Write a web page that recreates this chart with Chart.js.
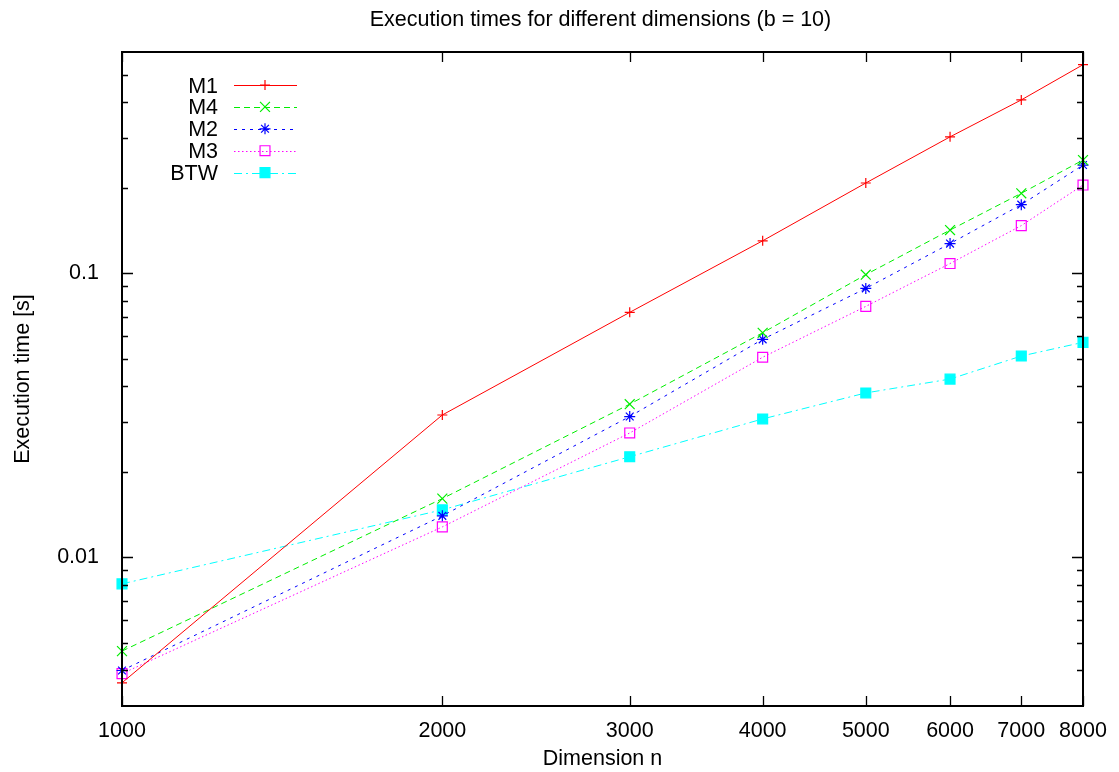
<!DOCTYPE html>
<html>
<head>
<meta charset="utf-8">
<script src="https://cdn.jsdelivr.net/npm/chart.js@4.4.1/dist/chart.umd.min.js"></script>
<style>
  html, body { margin: 0; padding: 0; background: #fff; }
  #wrap { width: 1119px; height: 772px; }
</style>
</head>
<body>
<div id="wrap"><canvas id="exec-chart"></canvas></div>
<script>
// execution times (seconds) per matrix dimension, block size b = 10
const DIMS = [1000, 2000, 3000, 4000, 5000, 6000, 7000, 8000];
const M1  = [0.00362, 0.0317, 0.0728, 0.1300, 0.2076, 0.3017, 0.4070, 0.5413];
const M4  = [0.00468, 0.0161, 0.0346, 0.0617, 0.0988, 0.1418, 0.1910, 0.2500];
const M2  = [0.00400, 0.0140, 0.0313, 0.0585, 0.0884, 0.1271, 0.1742, 0.2401];
const M3  = [0.00390, 0.0128, 0.0274, 0.0506, 0.0764, 0.1081, 0.1470, 0.2042];
const BTW = [0.00807, 0.0147, 0.0226, 0.0307, 0.0379, 0.0424, 0.0511, 0.0571];

const X_TICKS = [1000, 2000, 3000, 4000, 5000, 6000, 7000, 8000];
const Y_TICKS = [0.01, 0.1];
const Y_MINOR = [0.004, 0.005, 0.006, 0.007, 0.008, 0.009,
                 0.02, 0.03, 0.04, 0.05, 0.06, 0.07, 0.08, 0.09,
                 0.2, 0.3, 0.4, 0.5];

const TITLE = 'Execution times for different dimensions (b = 10)';
const FONT = { family: '"Liberation Sans", Arial, Helvetica, sans-serif', size: 21.5 };
const FONT_CSS = `21.5px ${FONT.family}`;

function series(label, data, color, dash, style, radius, filled) {
  return {
    label,
    data: DIMS.map((d, i) => ({ x: d, y: data[i] })),
    borderColor: color,
    backgroundColor: filled ? color : 'rgba(0,0,0,0)',
    borderWidth: 1,
    borderDash: dash,
    pointStyle: style,
    pointRadius: radius,
    pointHoverRadius: radius,
    pointBorderColor: color,
    pointBackgroundColor: filled ? color : 'rgba(0,0,0,0)',
    pointBorderWidth: 1.2,
    tension: 0,
    fill: false,
    clip: false,
  };
}

const datasets = [
  series('M1', M1, '#ff0000', [], 'cross', 5, false),
  series('M4', M4, '#00ee00', [6, 4], 'crossRot', 7, false),
  series('M2', M2, '#0000ff', [3, 5], 'star', 5.5, false),
  series('M3', M3, '#ff00ff', [1.5, 2.5], 'rect', 7, false),
  series('BTW', BTW, '#00ffff', [8, 4, 2, 4], 'rect', 7, true),
];

// border, inward ticks, key and title in the gnuplot manner
const gnuplotFrame = {
  id: 'gnuplotFrame',
  afterDatasetsDraw(chart) {
    const { ctx, chartArea: a, scales: { x, y } } = chart;
    ctx.save();
    ctx.strokeStyle = '#000';

    ctx.lineWidth = 1.3;
    ctx.beginPath();
    X_TICKS.forEach(v => {
      const px = Math.round(x.getPixelForValue(v)) + 0.5;
      ctx.moveTo(px, a.bottom); ctx.lineTo(px, a.bottom - 10);
      ctx.moveTo(px, a.top); ctx.lineTo(px, a.top + 10);
    });
    Y_TICKS.forEach(v => {
      const py = Math.round(y.getPixelForValue(v)) + 0.5;
      ctx.moveTo(a.left, py); ctx.lineTo(a.left + 11, py);
      ctx.moveTo(a.right, py); ctx.lineTo(a.right - 11, py);
    });
    Y_MINOR.forEach(v => {
      const py = Math.round(y.getPixelForValue(v)) + 0.5;
      ctx.moveTo(a.left, py); ctx.lineTo(a.left + 6, py);
      ctx.moveTo(a.right, py); ctx.lineTo(a.right - 6, py);
    });
    ctx.stroke();

    ctx.lineWidth = 2;
    ctx.strokeRect(a.left, a.top, a.right - a.left, a.bottom - a.top);

    // key, top left inside the frame
    ctx.font = FONT_CSS;
    ctx.textAlign = 'right';
    ctx.textBaseline = 'alphabetic';
    chart.data.datasets.forEach((ds, i) => {
      const ry = a.top + 33 + i * 21.9;
      ctx.fillStyle = '#000';
      ctx.fillText(ds.label, a.left + 96, ry + 7.5);

      ctx.strokeStyle = ds.borderColor;
      ctx.lineWidth = 1;
      ctx.setLineDash(ds.borderDash);
      ctx.beginPath();
      ctx.moveTo(a.left + 112, Math.round(ry) + 0.5);
      ctx.lineTo(a.left + 175, Math.round(ry) + 0.5);
      ctx.stroke();
      ctx.setLineDash([]);

      ctx.fillStyle = ds.pointBackgroundColor;
      ctx.lineWidth = ds.pointBorderWidth;
      Chart.helpers.drawPoint(ctx, {
        pointStyle: ds.pointStyle, radius: ds.pointRadius, rotation: 0, borderWidth: ds.pointBorderWidth
      }, a.left + 143, ry);
    });

    ctx.fillStyle = '#000';
    ctx.textAlign = 'center';
    ctx.fillText(TITLE, (a.left + a.right) / 2 - 2, 26);
    ctx.restore();
  }
};

new Chart(document.getElementById('exec-chart'), {
  type: 'line',
  data: { datasets },
  options: {
    responsive: true,
    maintainAspectRatio: false,
    animation: false,
    layout: { padding: { top: 52, right: 36, bottom: 0, left: 0 } },
    plugins: {
      legend: { display: false },
      title: { display: false },
      tooltip: { enabled: false },
    },
    scales: {
      x: {
        type: 'logarithmic',
        min: 1000,
        max: 8000,
        grid: { display: false },
        border: { display: false },
        afterBuildTicks: s => { s.ticks = X_TICKS.map(v => ({ value: v })); },
        afterFit: s => { s.height = 66; },
        ticks: {
          color: '#000',
          font: FONT,
          padding: 4,
          maxRotation: 0,
          autoSkip: false,
          callback: v => String(v),
        },
        title: {
          display: true,
          text: 'Dimension n',
          color: '#000',
          font: FONT,
          padding: { top: 0, bottom: 0 },
        },
      },
      y: {
        type: 'logarithmic',
        min: 0.003,
        max: 0.6,
        grid: { display: false },
        border: { display: false },
        afterBuildTicks: s => { s.ticks = Y_TICKS.map(v => ({ value: v })); },
        afterFit: s => { s.width = 122; },
        ticks: {
          color: '#000',
          font: FONT,
          padding: 15,
          autoSkip: false,
          callback: v => String(v),
        },
        title: {
          display: true,
          text: 'Execution time [s]',
          color: '#000',
          font: FONT,
          padding: { top: 10, bottom: 0 },
        },
      },
    },
  },
  plugins: [gnuplotFrame],
});
</script>
</body>
</html>
